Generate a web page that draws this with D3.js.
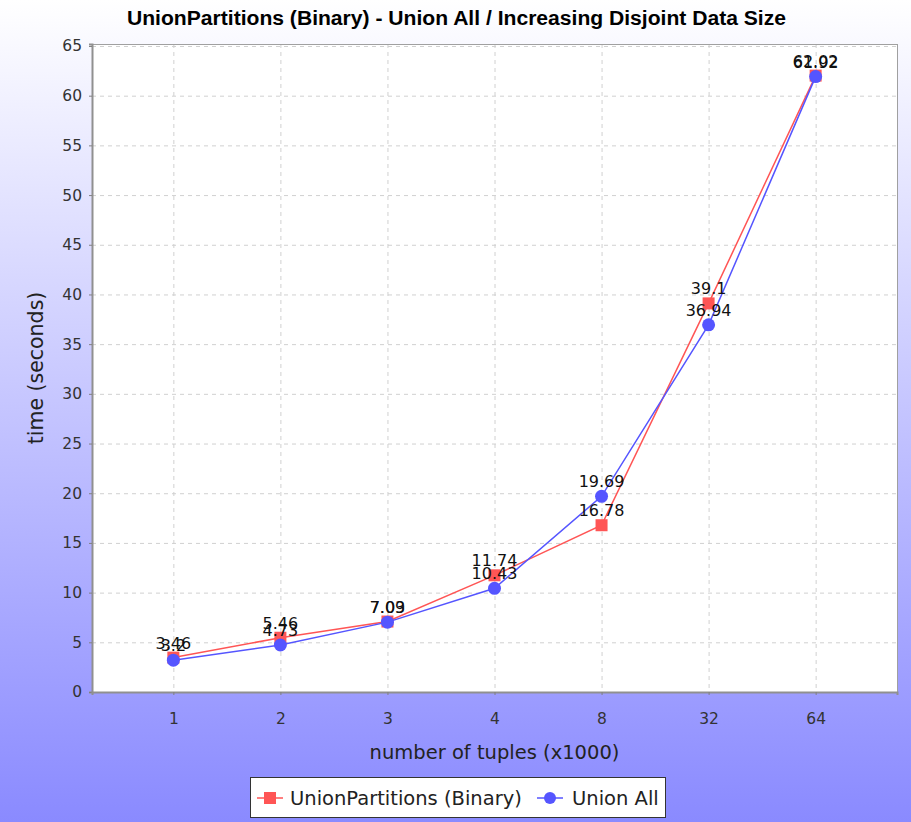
<!DOCTYPE html>
<html>
<head>
<meta charset="utf-8">
<script src="https://cdn.jsdelivr.net/npm/d3@7"></script>
<style>
  body { margin: 0; padding: 0; }
  svg { display: block; }
</style>
</head>
<body>
<div id="chart"></div>
<script>
// chart data
const categories = ["1", "2", "3", "4", "8", "32", "64"];
const unionPartitions = [3.46, 5.46, 7.09, 11.74, 16.78, 39.1, 62.02];
const unionAll = [3.2, 4.73, 7.03, 10.43, 19.69, 36.94, 61.92];
const yTicks = [0, 5, 10, 15, 20, 25, 30, 35, 40, 45, 50, 55, 60, 65];

const series = [
    { name: "UnionPartitions (Binary)", values: unionPartitions, color: "#ff5555", shape: "square" },
    { name: "Union All", values: unionAll, color: "#5555ff", shape: "circle" }
];

const W = 911, H = 822;
const plot = { left: 92, top: 44, right: 897, bottom: 692 };
const font = "'DejaVu Sans', sans-serif";

const svg = d3.select("#chart").append("svg")
    .attr("width", W)
    .attr("height", H);

// background gradient
const grad = svg.append("defs").append("linearGradient")
    .attr("id", "bg")
    .attr("x1", 0).attr("y1", 0).attr("x2", 0).attr("y2", 1);
grad.append("stop").attr("offset", "0%").attr("stop-color", "#ffffff");
grad.append("stop").attr("offset", "100%").attr("stop-color", "#8a8aff");

svg.append("rect")
    .attr("width", W).attr("height", H)
    .attr("fill", "url(#bg)");

// title
svg.append("text")
    .attr("x", 127)
    .attr("y", 25)
    .attr("textLength", 659)
    .attr("lengthAdjust", "spacingAndGlyphs")
    .style("font-family", "'Liberation Sans Narrow', 'Liberation Sans', Arial, sans-serif")
    .style("font-weight", "bold")
    .style("font-size", "20px")
    .attr("fill", "#000")
    .text("UnionPartitions (Binary) - Union All / Increasing Disjoint Data Size");

// scales
const x = d3.scalePoint()
    .domain(categories)
    .range([plot.left, plot.right])
    .padding(0.76);

const y = d3.scaleLinear()
    .domain([0, 65.2])
    .range([plot.bottom, plot.top]);

// plot background
svg.append("rect")
    .attr("x", plot.left).attr("y", plot.top)
    .attr("width", plot.right - plot.left)
    .attr("height", plot.bottom - plot.top)
    .attr("fill", "#ffffff");

// gridlines
const grid = svg.append("g").attr("class", "grid");
grid.selectAll(".hgrid")
    .data(yTicks)
    .enter().append("line")
    .attr("class", "hgrid")
    .attr("x1", plot.left).attr("x2", plot.right)
    .attr("y1", d => y(d) + 0.5).attr("y2", d => y(d) + 0.5)
    .attr("stroke", "#d0d0d0")
    .attr("stroke-dasharray", "4,4");

grid.selectAll(".vgrid")
    .data(categories)
    .enter().append("line")
    .attr("class", "vgrid")
    .attr("x1", d => x(d) + 0.5).attr("x2", d => x(d) + 0.5)
    .attr("y1", plot.top).attr("y2", plot.bottom)
    .attr("stroke", "#d0d0d0")
    .attr("stroke-dasharray", "4,4");

// plot outline
svg.append("rect")
    .attr("x", plot.left + 0.5).attr("y", plot.top + 0.5)
    .attr("width", plot.right - plot.left)
    .attr("height", plot.bottom - plot.top)
    .attr("fill", "none")
    .attr("stroke", "#a0a0a0")
    .attr("stroke-width", 1);

// axes
const yAxis = d3.axisLeft(y)
    .tickValues(yTicks)
    .tickSize(3)
    .tickPadding(7)
    .tickFormat(d3.format("d"));

const yG = svg.append("g")
    .attr("transform", `translate(${plot.left},0)`)
    .call(yAxis);

const xAxis = d3.axisBottom(x)
    .tickSize(3)
    .tickPadding(18);

const xG = svg.append("g")
    .attr("transform", `translate(0,${plot.bottom})`)
    .call(xAxis);

[yG, xG].forEach(g => {
    g.select(".domain").attr("stroke", "#909090").attr("stroke-width", 2);
    g.selectAll(".tick line").attr("stroke", "#808080");
    g.selectAll(".tick text")
        .attr("fill", "#333")
        .style("font-family", font)
        .style("font-size", "15.5px");
});

// axis labels
svg.append("text")
    .attr("transform", `translate(43,${(plot.top + plot.bottom) / 2}) rotate(-90)`)
    .attr("text-anchor", "middle")
    .style("font-family", font)
    .style("font-size", "20.5px")
    .attr("fill", "#222")
    .text("time (seconds)");

svg.append("text")
    .attr("x", (plot.left + plot.right) / 2)
    .attr("y", 759)
    .attr("text-anchor", "middle")
    .style("font-family", font)
    .style("font-size", "19.5px")
    .attr("fill", "#222")
    .text("number of tuples (x1000)");

// lines and markers
const line = d3.line()
    .x((d, i) => x(categories[i]))
    .y(d => y(d));

series.forEach(s => {
    const g = svg.append("g").attr("class", "series");
    g.append("path")
        .datum(s.values)
        .attr("d", line)
        .attr("fill", "none")
        .attr("stroke", s.color)
        .attr("stroke-width", 1.5);

    if (s.shape === "square") {
        g.selectAll("rect")
            .data(s.values)
            .enter().append("rect")
            .attr("x", (d, i) => x(categories[i]) - 6)
            .attr("y", d => y(d) - 6)
            .attr("width", 12).attr("height", 12)
            .attr("fill", s.color);
    } else {
        g.selectAll("circle")
            .data(s.values)
            .enter().append("circle")
            .attr("cx", (d, i) => x(categories[i]))
            .attr("cy", d => y(d))
            .attr("r", 6.5)
            .attr("fill", s.color);
    }
});

// value labels
series.forEach(s => {
    svg.append("g").selectAll("text")
        .data(s.values)
        .enter().append("text")
        .attr("x", (d, i) => x(categories[i]))
        .attr("y", d => y(d) - 9)
        .attr("text-anchor", "middle")
        .style("font-family", font)
        .style("font-size", "16px")
        .attr("fill", "#111")
        .text(d => d);
});

// legend
const legend = svg.append("g").attr("transform", "translate(250,777)");
legend.append("rect")
    .attr("x", 0.5).attr("y", 0.5)
    .attr("width", 415).attr("height", 40)
    .attr("fill", "#ffffff")
    .attr("stroke", "#333")
    .attr("stroke-width", 1);

const legendPos = [{ sx: 20, tx: 40 }, { sx: 300, tx: 322 }];
series.forEach((s, i) => {
    const p = legendPos[i];
    const item = legend.append("g");
    item.append("line")
        .attr("x1", p.sx - 13).attr("x2", p.sx + 13)
        .attr("y1", 21).attr("y2", 21)
        .attr("stroke", s.color)
        .attr("stroke-width", 1.5);
    if (s.shape === "square") {
        item.append("rect")
            .attr("x", p.sx - 6).attr("y", 15)
            .attr("width", 12).attr("height", 12)
            .attr("fill", s.color);
    } else {
        item.append("circle")
            .attr("cx", p.sx).attr("cy", 21).attr("r", 6)
            .attr("fill", s.color);
    }
    item.append("text")
        .attr("x", p.tx).attr("y", 28)
        .style("font-family", font)
        .style("font-size", "19.5px")
        .attr("fill", "#222")
        .text(s.name);
});
</script>
</body>
</html>
